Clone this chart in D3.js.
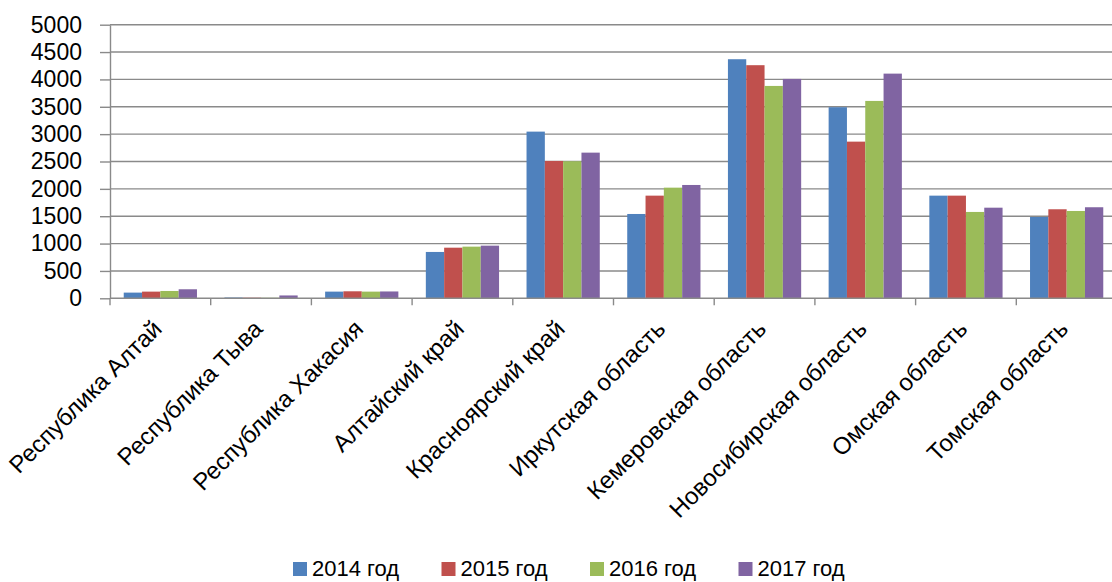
<html>
<head>
    <meta charset="utf-8">
    <script src="https://d3js.org/d3.v7.min.js"></script>
    <style>
        body { margin: 0; background: #fff; }
        text { font-family: "Liberation Sans", Arial, sans-serif; fill: #000; }
        .grid line { stroke: #8a8a8a; stroke-width: 1.4; }
        .axis path, .axis line { stroke: #8a8a8a; stroke-width: 1.4; }
    </style>
</head>
<body>
    <svg id="chart"></svg>
    <script>
        const regions = ["Республика Алтай", "Республика Тыва", "Республика Хакасия", "Алтайский край",
            "Красноярский край", "Иркутская область", "Кемеровская область", "Новосибирская область",
            "Омская область", "Томская область"];
        const years = ["2014 год", "2015 год", "2016 год", "2017 год"];
        const v2014 = [104, 15, 122, 847, 3046, 1541, 4369, 3492, 1876, 1486];
        const v2015 = [122, 12, 128, 925, 2510, 1876, 4260, 2863, 1876, 1627];
        const v2016 = [134, 10, 122, 944, 2505, 2022, 3881, 3607, 1578, 1596];
        const v2017 = [165, 52, 125, 962, 2662, 2071, 4009, 4106, 1656, 1664];
        const yTicks = [0, 500, 1000, 1500, 2000, 2500, 3000, 3500, 4000, 4500, 5000];
        const colors = ["#4f81bd", "#c0504d", "#9bbb59", "#8064a2"];

        const series = [v2014, v2015, v2016, v2017];
        const data = regions.map((r, i) => ({ region: r, values: series.map(s => s[i]) }));

        const W = 1112, H = 582;
        const plotLeft = 110, plotRight = 1117, plotTop = 24.7, plotBottom = 298.3;

        const svg = d3.select("#chart").attr("width", W).attr("height", H);

        const x = d3.scaleBand().domain(regions).range([plotLeft, plotRight]).paddingInner(0).paddingOuter(0);
        const inner = d3.scaleBand().domain(years)
            .range([0, x.bandwidth()]).paddingInner(0).paddingOuter(0.75);
        const y = d3.scaleLinear().domain([0, 5000]).range([plotBottom, plotTop]);

        // gridlines
        svg.append("g")
            .attr("class", "grid")
            .selectAll("line")
            .data(yTicks.slice(1))
            .enter()
            .append("line")
            .attr("x1", plotLeft).attr("x2", plotRight)
            .attr("y1", d => y(d)).attr("y2", d => y(d));

        // bars
        const groups = svg.selectAll(".group")
            .data(data)
            .enter()
            .append("g")
            .attr("transform", d => `translate(${x(d.region)},0)`);

        groups.selectAll("rect")
            .data(d => d.values.map((v, i) => ({ year: years[i], value: v, i })))
            .enter()
            .append("rect")
            .attr("x", d => inner(d.year))
            .attr("y", d => y(d.value))
            .attr("width", inner.bandwidth())
            .attr("height", d => plotBottom - y(d.value))
            .attr("fill", d => colors[d.i]);

        // y axis
        const yAxis = svg.append("g")
            .attr("class", "axis")
            .attr("transform", `translate(${plotLeft},0)`)
            .call(d3.axisLeft(y).tickValues(yTicks).tickFormat(d3.format("d"))
                .tickSize(10).tickPadding(18).tickSizeOuter(0));
        yAxis.selectAll("text").style("font-size", "23px");

        // x axis with ticks on category boundaries
        const xAxis = svg.append("g").attr("class", "axis");
        xAxis.append("line")
            .attr("x1", plotLeft).attr("x2", plotRight)
            .attr("y1", plotBottom).attr("y2", plotBottom);
        xAxis.selectAll(".tk")
            .data(regions)
            .enter()
            .append("line")
            .attr("x1", d => x(d)).attr("x2", d => x(d))
            .attr("y1", plotBottom).attr("y2", plotBottom + 7);

        xAxis.selectAll(".lbl")
            .data(regions)
            .enter()
            .append("text")
            .attr("text-anchor", "end")
            .style("font-size", "24px")
            .attr("transform", d => `translate(${x(d) + x.bandwidth() / 2 + 3},${plotBottom + 32})rotate(-45)`)
            .text(d => d);

        // legend
        const legend = svg.append("g").attr("transform", "translate(293,562)");
        const item = legend.selectAll("g")
            .data(years)
            .enter()
            .append("g")
            .attr("transform", (d, i) => `translate(${i * 148.5},0)`);
        item.append("rect")
            .attr("width", 14).attr("height", 14)
            .attr("fill", (d, i) => colors[i]);
        item.append("text")
            .attr("x", 19).attr("y", 14)
            .style("font-size", "22px")
            .text(d => d);
    </script>
</body>
</html>
